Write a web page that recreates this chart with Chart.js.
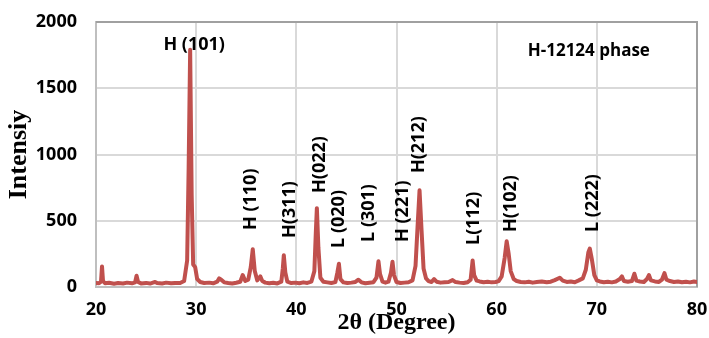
<!DOCTYPE html>
<html>
<head>
<meta charset="utf-8">
<script src="https://cdn.jsdelivr.net/npm/chart.js@4"></script>
<style>
  html, body { margin: 0; padding: 0; background: #fff; }
  #wrap { width: 709px; height: 338px; }
</style>
</head>
<body>
<div id="wrap"><canvas id="xrd"></canvas></div>
<script>
// diffraction angle (2theta, degrees) and measured intensity
const twoTheta = [
  20.0, 20.3, 20.5, 20.6, 20.7, 20.9, 21.3, 21.8, 22.2, 22.7, 23.1, 23.6, 23.9, 24.05, 24.2, 24.5,
  25.0, 25.4, 25.9, 26.1, 26.6, 27.0, 27.5, 27.9, 28.4, 28.8, 29.1, 29.25, 29.4, 29.55, 29.7, 29.9,
  30.1, 30.4, 30.8, 31.3, 31.7, 32.1, 32.3, 32.5, 32.8, 33.2, 33.6, 34.0, 34.4, 34.65, 34.9, 35.2,
  35.45, 35.65, 35.85, 36.1, 36.4, 36.6, 36.9, 37.3, 37.7, 38.1, 38.5, 38.65, 38.75, 38.9, 39.1, 39.5,
  39.9, 40.3, 40.7, 41.1, 41.5, 41.8, 41.95, 42.05, 42.2, 42.4, 42.7, 43.1, 43.5, 43.9, 44.1, 44.25,
  44.4, 44.7, 45.1, 45.5, 45.9, 46.2, 46.5, 46.9, 47.3, 47.7, 48.0, 48.2, 48.35, 48.6, 48.9, 49.2,
  49.45, 49.6, 49.75, 50.0, 50.4, 50.8, 51.2, 51.6, 51.9, 52.1, 52.3, 52.5, 52.7, 52.95, 53.2, 53.5,
  53.75, 54.0, 54.4, 54.8, 55.2, 55.6, 55.9, 56.3, 56.7, 57.1, 57.4, 57.6, 57.75, 58.0, 58.3, 58.7,
  59.1, 59.5, 59.9, 60.2, 60.5, 60.8, 61.0, 61.2, 61.4, 61.7, 62.0, 62.4, 62.8, 63.2, 63.6, 64.0,
  64.5, 65.0, 65.4, 65.8, 66.3, 66.6, 67.0, 67.4, 67.8, 68.2, 68.6, 68.9, 69.15, 69.3, 69.5, 69.75,
  70.0, 70.3, 70.7, 71.1, 71.5, 71.9, 72.3, 72.5, 72.7, 73.1, 73.5, 73.75, 73.95, 74.3, 74.7, 75.0,
  75.2, 75.4, 75.8, 76.2, 76.5, 76.75, 76.95, 77.3, 77.7, 78.1, 78.5, 78.9, 79.3, 79.7, 80.0
];
const intensity = [
  30, 28, 40, 155, 45, 28, 32, 25, 30, 27, 33, 28, 35, 85, 38, 27,
  31, 26, 38, 30, 27, 33, 28, 31, 30, 45, 200, 900, 1790, 700, 170, 150,
  60, 38, 30, 33, 28, 40, 65, 55, 35, 30, 26, 32, 40, 90, 45, 55,
  150, 285, 120, 50, 80, 45, 33, 28, 32, 27, 40, 140, 240, 110, 40, 30,
  33, 28, 35, 31, 40, 120, 420, 595, 300, 70, 40, 35, 30, 37, 110, 175,
  60, 35, 30, 33, 38, 55, 35, 28, 32, 36, 70, 195, 100, 40, 33, 40,
  110, 190, 90, 38, 30, 33, 36, 50, 160, 450, 730, 430, 140, 65, 45, 38,
  60, 40, 33, 36, 38, 52, 37, 33, 30, 36, 55, 200, 90, 48, 42, 36,
  40, 35, 38, 45, 80, 220, 345, 250, 120, 60, 45, 38, 35, 40, 33, 38,
  42, 36, 40, 52, 70, 48, 38, 42, 36, 50, 65, 130, 260, 290, 210, 90,
  50, 42, 36, 40, 35, 42, 60, 80, 45, 40, 45, 100, 48, 42, 38, 60,
  90, 50, 42, 38, 55, 105, 55, 45, 38, 42, 36, 40, 35, 42, 38
];

// peak labels (vertical ones sit with their foot at labelIntensity)
const peakLabels = ["H (110)", "H(311)", "H(022)", "L (020)", "L (301)", "H (221)", "H(212)", "L(112)", "H(102)", "L (222)"];
const labelTheta = [35.5, 39.4, 42.4, 44.2, 47.2, 50.6, 52.2, 57.7, 61.4, 69.6];
const labelIntensity = [430, 370, 710, 295, 340, 340, 860, 317, 415, 415];

const topLabel = "H (101)";
const topLabelTheta = 29.8;
const topLabelIntensity = 1830;

const phaseLabel = "H-12124 phase";
const phaseTheta = 69.2;
const phaseIntensity = 1780;

const xTicks = [20, 30, 40, 50, 60, 70, 80];
const yTicks = [0, 500, 1000, 1500, 2000];

const points = twoTheta.map((t, i) => ({ x: t, y: intensity[i] }));

const peakLabelPlugin = {
  id: "peakLabels",
  afterDatasetsDraw(chart) {
    const ctx = chart.ctx;
    const xs = chart.scales.x;
    const ys = chart.scales.y;
    ctx.save();
    ctx.fillStyle = "#000";
    ctx.font = "bold 18px 'Open Sans'";
    peakLabels.forEach((txt, i) => {
      ctx.save();
      ctx.translate(xs.getPixelForValue(labelTheta[i]), ys.getPixelForValue(labelIntensity[i]));
      ctx.rotate(-Math.PI / 2);
      ctx.textAlign = "left";
      ctx.textBaseline = "middle";
      ctx.fillText(txt, 0, 0);
      ctx.restore();
    });
    ctx.textAlign = "center";
    ctx.textBaseline = "middle";
    ctx.fillText(topLabel, xs.getPixelForValue(topLabelTheta), ys.getPixelForValue(topLabelIntensity));
    ctx.font = "bold 17px 'Open Sans'";
    ctx.fillText(phaseLabel, xs.getPixelForValue(phaseTheta), ys.getPixelForValue(phaseIntensity));
    ctx.restore();
  }
};

// darker frame on the top and right of the plot area
const framePlugin = {
  id: "frame",
  beforeDatasetsDraw(chart) {
    const { ctx, chartArea: a } = chart;
    ctx.save();
    ctx.strokeStyle = "#a0a0a0";
    ctx.lineWidth = 2;
    ctx.beginPath();
    ctx.moveTo(a.left, a.top);
    ctx.lineTo(a.right, a.top);
    ctx.lineTo(a.right, a.bottom);
    ctx.stroke();
    ctx.restore();
  }
};

new Chart(document.getElementById("xrd"), {
  type: "line",
  data: {
    datasets: [{
      data: points,
      borderColor: "#c0504d",
      borderWidth: 4,
      borderJoinStyle: "round",
      borderCapStyle: "round",
      pointRadius: 0,
      tension: 0,
      fill: false
    }]
  },
  options: {
    responsive: true,
    maintainAspectRatio: false,
    animation: false,
    layout: { padding: { left: 4, right: 12, top: 22, bottom: 0 } },
    plugins: {
      legend: { display: false },
      tooltip: { enabled: false }
    },
    scales: {
      x: {
        type: "linear",
        min: 20,
        max: 80,
        afterBuildTicks: (s) => { s.ticks = xTicks.map(v => ({ value: v })); },
        afterFit: (s) => {
          s.height = 51;
          s.paddingLeft = 0;
          s.paddingRight = 0;
        },
        grid: { color: "#d9d9d9", lineWidth: 2, drawTicks: false },
        border: { color: "#bfbfbf", width: 2 },
        ticks: {
          padding: 12,
          color: "#000",
          callback: (v) => String(v),
          font: { family: "'Open Sans'", size: 18, weight: "bold" }
        },
        title: {
          display: true,
          text: "2\u03b8 (Degree)",
          color: "#000",
          padding: { top: 0, bottom: 1 },
          font: { family: "'Liberation Serif'", size: 24, weight: "bold" }
        }
      },
      y: {
        min: 0,
        max: 2000,
        afterBuildTicks: (s) => { s.ticks = yTicks.map(v => ({ value: v })); },
        afterFit: (s) => {
          s.width = 92;
          s.paddingTop = 0;
          s.paddingBottom = 0;
        },
        grid: { color: "#d9d9d9", lineWidth: 2, drawTicks: false },
        border: { color: "#bfbfbf", width: 2 },
        ticks: {
          padding: 19,
          color: "#000",
          callback: (v) => String(v),
          font: { family: "'Open Sans'", size: 18, weight: "bold" }
        },
        title: {
          display: true,
          text: "Intensiy",
          color: "#000",
          padding: 0,
          font: { family: "'Liberation Serif'", size: 26, weight: "bold" }
        }
      }
    }
  },
  plugins: [framePlugin, peakLabelPlugin]
});
</script>
</body>
</html>
